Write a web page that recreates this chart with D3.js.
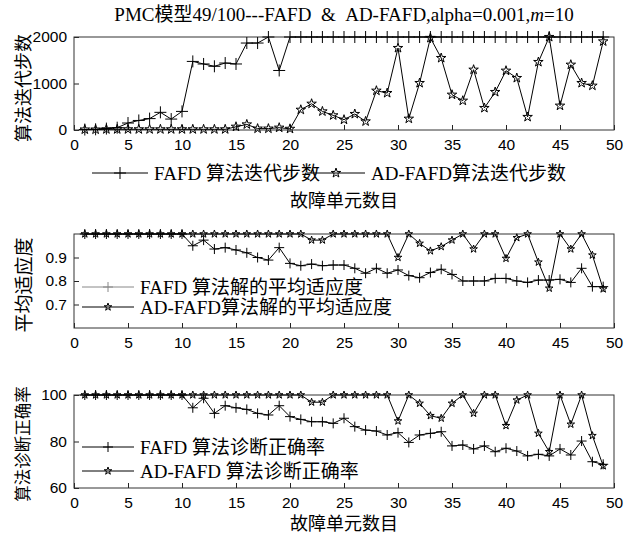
<!DOCTYPE html>
<html><head><meta charset="utf-8">
<script src="https://cdn.jsdelivr.net/npm/d3@7"></script>
<style>body{margin:0;background:#fff}svg{display:block}</style>
</head><body>
<script>
const xs = d3.range(1, 50);
const xTicks = [0,5,10,15,20,25,30,35,40,45,50];

const topFAFD = [10,15,30,50,150,205,245,380,235,400,1475,1420,1370,1440,1420,1870,1870,2000,1280,2000,
 2000,2000,2000,2000,2000,2000,2000,2000,2000,2000,2000,2000,2000,2000,2000,2000,2000,2000,2000,2000,
 2000,2000,2000,2000,2000,2000,2000,2000,2000];
const topAD = [10,10,15,15,15,15,15,15,15,15,15,15,15,15,70,120,30,30,50,25,
 435,565,400,315,222,344,185,845,795,1763,243,1010,1980,1548,759,630,1297,473,817,1275,
 1118,280,1462,2000,523,1404,1010,953,1905];
const topTicks = [0,1000,2000];

const midFAFD = [1,1,1,1,1,1,1,1,1,1,0.95,0.974,0.936,0.942,0.932,0.92,0.90,0.889,0.942,0.875,
 0.865,0.872,0.865,0.868,0.868,0.854,0.833,0.854,0.833,0.847,0.823,0.814,0.836,0.85,0.828,0.80,0.80,0.80,0.811,0.811,
 0.80,0.794,0.804,0.804,0.807,0.794,0.854,0.776,0.776];
const midAD = [1,1,1,1,1,1,1,1,1,1,1,1,1,1,1,1,1,1,1,1,
 1,0.974,0.974,1,1,1,1,1,1,0.90,1,0.96,0.928,0.946,0.974,1,0.936,1,1,0.896,
 0.984,1,0.88,0.769,1,0.936,1,0.91,0.766];
const midTicks = [0.7,0.8,0.9];

const botFAFD = [100,100,100,100,100,100,100,100,100,100,94.5,98.6,92.1,95.4,94.5,93.8,92.1,91.4,95.4,90.7,
 89.5,88.5,88.5,87.8,90.0,86.4,84.9,84.5,82.8,83.8,79.6,82.8,83.5,84.2,78.1,78.5,76.8,78.1,75.6,77.1,
 75.9,73.8,74.5,73.8,76.8,74.2,80.2,71.3,70.2];
const botAD = [100,100,100,100,100,100,100,100,100,100,100,100,100,100,100,100,100,100,100,100,
 100,96.9,96.9,100,100,100,100,100,100,88.8,100,96.4,91.1,90.0,96.4,100,92.1,100,100,86.8,
 97.8,100,83.5,75.6,100,87.4,100,82.5,69.5];
const botTicks = [60,80,100];

const titleText = "PMC模型49/100---FAFD\u00a0\u00a0&\u00a0\u00a0AD-FAFD,alpha=0.001,";
const xLabel = "故障单元数目";
const yLabels = ["算法迭代步数", "平均适应度", "算法诊断正确率"];
const legTop = ["FAFD 算法迭代步数", "AD-FAFD算法迭代步数"];
const legMid = ["FAFD 算法解的平均适应度", "AD-FAFD算法解的平均适应度"];
const legBot = ["FAFD 算法诊断正确率", "AD-FAFD 算法诊断正确率"];

const W = 633, H = 537;
const L = 74, R = 614;
const svg = d3.select("body").append("svg").attr("width", W).attr("height", H);
const serif = "'Liberation Serif','Times New Roman','Noto Sans CJK SC',serif";
const sans = "'Liberation Sans',Arial,sans-serif";
const cjk = "'Noto Sans CJK SC',sans-serif";

const x = d3.scaleLinear().domain([0,50]).range([L,R]);

function plus(g, px, py, h, color) {
  g.append("path").attr("d", `M${px-h},${py}H${px+h}M${px},${py-h}V${py+h}`)
    .attr("stroke", color || "#000").attr("stroke-width", 1).attr("fill","none");
}
function star(g, px, py, size) {
  g.append("path").attr("d", d3.symbol(d3.symbolStar, size)())
    .attr("transform", `translate(${px},${py})`)
    .attr("stroke", "#000").attr("stroke-width", 1).attr("fill","none");
}

function panel(top, bottom, domain, ticks, fmt, s1, s2, plusH, starSize, ylab, ylabSize, ylabY) {
  const y = d3.scaleLinear().domain(domain).range([bottom, top]);
  const g = svg.append("g");
  const ax = g.append("g").attr("transform", `translate(0,${bottom})`)
    .call(d3.axisBottom(x).tickValues(xTicks).tickSizeInner(-5).tickSizeOuter(0).tickPadding(9));
  const ay = g.append("g").attr("transform", `translate(${L},0)`)
    .call(d3.axisLeft(y).tickValues(ticks).tickFormat(fmt).tickSizeInner(-5).tickSizeOuter(0).tickPadding(7));
  [ax, ay].forEach(a => {
    a.select(".domain").remove();
    a.selectAll("line").attr("stroke", "#222");
    a.selectAll("text").attr("font-family", sans).attr("font-size", 15.5).attr("fill", "#000");
  });
  g.append("rect").attr("x", L).attr("y", top).attr("width", R-L).attr("height", bottom-top)
    .attr("fill","none").attr("stroke","#333").attr("stroke-width",1);
  const line = d3.line().x((d,i)=>x(xs[i])).y(d=>y(d));
  g.append("path").datum(s1).attr("d", line).attr("fill","none").attr("stroke","#000").attr("stroke-width",1);
  g.append("path").datum(s2).attr("d", line).attr("fill","none").attr("stroke","#000").attr("stroke-width",1);
  s1.forEach((d,i)=>plus(g, x(xs[i]), y(d), plusH));
  s2.forEach((d,i)=>star(g, x(xs[i]), y(d), starSize));
  g.append("text").attr("transform", `translate(22,${ylabY}) rotate(-90)`)
    .attr("text-anchor","middle").attr("dominant-baseline","central")
    .attr("font-family", cjk).attr("font-size", ylabSize)
    .attr("fill","#000").text(ylab);
  return g;
}

panel(37, 130, [0,2000], topTicks, d3.format("d"), topFAFD, topAD, 6, 28, yLabels[0], 18, 88);
panel(234, 328, [0.6,1.0], midTicks, d3.format(".1f"), midFAFD, midAD, 5, 18, yLabels[1], 19, 285);
panel(395, 488, [60,100], botTicks, d3.format("d"), botFAFD, botAD, 5, 18, yLabels[2], 16.5, 444);

// title
const t = svg.append("text").attr("x", 344).attr("y", 14).attr("text-anchor","middle")
  .attr("dominant-baseline","central")
  .attr("font-family", serif).attr("font-size", 19).attr("fill","#000");
t.append("tspan").text(titleText);
t.append("tspan").attr("font-style","italic").text("m");
t.append("tspan").text("=10");

// x labels
[201, 524].forEach(yy => svg.append("text").attr("x", 344).attr("y", yy).attr("text-anchor","middle")
  .attr("dominant-baseline","central")
  .attr("font-family", serif).attr("font-size", 18).attr("fill","#000").text(xLabel));

// legends
function legItem(x0, x1, yy, kind, label, size, color) {
  const g = svg.append("g");
  g.append("line").attr("x1", x0).attr("x2", x1).attr("y1", yy).attr("y2", yy)
    .attr("stroke", color || "#000").attr("stroke-width", 1);
  const mx = (x0+x1)/2;
  if (kind === "plus") plus(g, mx, yy, size, color); else star(g, mx, yy, size);
  g.append("text").attr("x", x1 + 6).attr("y", yy).attr("dy", "0.35em")
    .attr("font-family", serif).attr("font-size", 19).attr("fill","#000").text(label);
}
legItem(92, 148, 173, "plus", legTop[0], 6);
legItem(307, 365, 173, "star", legTop[1], 28);
legItem(82, 134, 287, "plus", legMid[0], 5, "#888");
legItem(82, 134, 307, "star", legMid[1], 18);
legItem(82, 134, 447, "plus", legBot[0], 5);
legItem(82, 134, 471, "star", legBot[1], 18);
</script>
</body></html>
